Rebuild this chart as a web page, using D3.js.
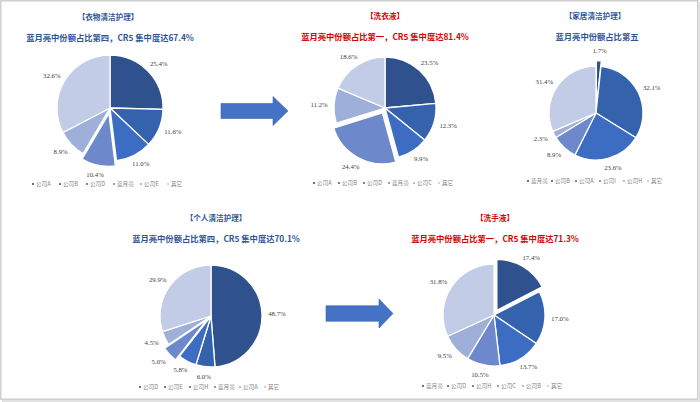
<!DOCTYPE html>
<html>
<head>
<meta charset="utf-8">
<script src="https://cdn.jsdelivr.net/npm/d3@7"></script>
<style>
html,body{margin:0;padding:0;background:#fff;}
svg{display:block;}
</style>
</head>
<body>
<svg id="chart" width="700" height="402"></svg>
<script>
// ---------- DATA ----------
const titles = ["【衣物清洁护理】", "【洗衣液】", "【家居清洁护理】", "【个人清洁护理】", "【洗手液】"];
const subtitles = [
  "蓝月亮中份额占比第四，CR5 集中度达67.4%",
  "蓝月亮中份额占比第一，CR5 集中度达81.4%",
  "蓝月亮中份额占比第五",
  "蓝月亮中份额占比第四，CR5 集中度达70.1%",
  "蓝月亮中份额占比第一，CR5 集中度达71.3%"
];
const categories1 = ["公司A", "公司B", "公司D", "蓝月亮", "公司E", "其它"];
const values1 = [25.4, 11.6, 11.0, 10.4, 8.9, 32.6];
const categories2 = ["公司A", "公司B", "公司D", "蓝月亮", "公司C", "其它"];
const values2 = [23.5, 12.3, 9.9, 24.4, 11.2, 18.6];
const categories3 = ["蓝月亮", "公司B", "公司A", "公司I", "公司H", "其它"];
const values3 = [1.7, 32.1, 23.6, 8.9, 2.3, 31.4];
const categories4 = ["公司D", "公司E", "公司H", "蓝月亮", "公司A", "其它"];
const values4 = [48.7, 6.0, 5.8, 5.0, 4.5, 29.9];
const categories5 = ["蓝月亮", "公司D", "公司H", "公司C", "公司B", "其它"];
const values5 = [17.4, 17.0, 13.7, 10.5, 9.5, 31.8];
const highlight = "蓝月亮";

// ---------- STYLE / LAYOUT ----------
const palette = ["#2F528F", "#3562AC", "#3D6DC3", "#6D89CB", "#9EAFD9", "#C2CCE6"];
const blue = "#2F5597", red = "#D80000";
const panels = [
  {cats: categories1, vals: values1, cx: 110, cy: 108, r: 53, tx: 108, sx: 110, ty: 20, sy: 41, ly: 184, lw: 27, color: blue},
  {cats: categories2, vals: values2, cx: 385, cy: 108, r: 51, tx: 385, sx: 385, ty: 19, sy: 40, ly: 183, lw: 25, color: red},
  {cats: categories3, vals: values3, cx: 596, cy: 113, r: 47, tx: 595, sx: 597, ty: 19, sy: 40, ly: 181, lw: 24, color: blue},
  {cats: categories4, vals: values4, cx: 211, cy: 316, r: 51, tx: 216, sx: 216, ty: 221, sy: 242, ly: 387, lw: 25, color: blue},
  {cats: categories5, vals: values5, cx: 494, cy: 315, r: 51, tx: 495, sx: 495, ty: 221, sy: 242, ly: 386, lw: 25, color: red}
];

const svg = d3.select("#chart");
svg.append("rect").attr("x", 0).attr("y", 0).attr("width", 700).attr("height", 402).attr("fill", "#fff");
// frame
svg.append("rect").attr("x", 0.75).attr("y", 0.75).attr("width", 697).attr("height", 398.5)
  .attr("fill", "none").attr("stroke", "#cfcfcf").attr("stroke-width", 1.5);
svg.append("path").attr("d", "M699,2 V401 H2").attr("fill", "none").attr("stroke", "#e2e2e2").attr("stroke-width", 2);

const pie = d3.pie().sort(null).value(d => d.v);

panels.forEach((p, pi) => {
  const g = svg.append("g");
  const data = p.cats.map((c, i) => ({c, v: p.vals[i], i}));
  const color = d3.scaleOrdinal().domain(p.cats).range(palette);
  const arcs = pie(data);
  const arc = d3.arc().innerRadius(0).outerRadius(p.r);

  g.append("text").attr("x", p.tx).attr("y", p.ty).attr("text-anchor", "middle")
    .attr("font-family", "'Noto Sans CJK SC'").attr("font-weight", "bold").attr("font-size", 7.6)
    .attr("fill", p.color).text(titles[pi]);
  g.append("text").attr("x", p.sx).attr("y", p.sy).attr("text-anchor", "middle")
    .attr("font-family", "'Noto Sans CJK SC'").attr("font-weight", "bold").attr("font-size", 8.3)
    .attr("fill", p.color).text(subtitles[pi]);

  const pg = g.append("g").attr("transform", `translate(${p.cx},${p.cy})`);
  arcs.forEach(a => {
    const mid = (a.startAngle + a.endAngle) / 2;
    const off = a.data.c === highlight ? 5.5 : 0;
    const dx = Math.sin(mid) * off, dy = -Math.cos(mid) * off;
    pg.append("path").attr("d", arc(a)).attr("transform", `translate(${dx},${dy})`)
      .attr("fill", color(a.data.c)).attr("stroke", "#fff").attr("stroke-width", 1.3)
      .attr("stroke-linejoin", "round");
    const sx = Math.sin(mid), sy = -Math.cos(mid);
    const rr = p.r + 6 + off;
    const lx = sx * rr + sx * 9, ly = sy * rr + sy * 4 + 2.2;
    pg.append("text").attr("x", lx).attr("y", ly).attr("text-anchor", "middle")
      .attr("font-family", "'Liberation Serif'").attr("font-size", 6.8).attr("fill", "#404040")
      .text(a.data.v.toFixed(1) + "%");
  });

  // legend
  const n = p.cats.length;
  const lx0 = p.cx - (n * p.lw) / 2 + 2;
  const lg = g.append("g");
  p.cats.forEach((c, i) => {
    const x = lx0 + i * p.lw;
    lg.append("circle").attr("cx", x + 2).attr("cy", p.ly).attr("r", 1.1).attr("fill", color(c));
    lg.append("text").attr("x", x + 5).attr("y", p.ly + 2).attr("font-family", "'Noto Sans CJK SC'")
      .attr("font-size", 5.6).attr("fill", "#7f7f7f").text(c);
  });
});

// arrows
const arrows = [
  {x0: 221, x1: 288, y: 111, sh: 15, hh: 29, hl: 15},
  {x0: 326, x1: 393, y: 313.5, sh: 15.5, hh: 29, hl: 14}
];
const arrowG = svg.append("g");
arrows.forEach(a => {
  const hx = a.x1 - a.hl;
  const pts = [[a.x0, a.y - a.sh / 2], [hx, a.y - a.sh / 2], [hx, a.y - a.hh / 2], [a.x1, a.y],
    [hx, a.y + a.hh / 2], [hx, a.y + a.sh / 2], [a.x0, a.y + a.sh / 2]];
  arrowG.append("path").attr("d", d3.line()(pts) + "Z").attr("fill", "#4472C4")
    .attr("stroke", "#3B65B0").attr("stroke-width", 0.6);
});
</script>
</body>
</html>
